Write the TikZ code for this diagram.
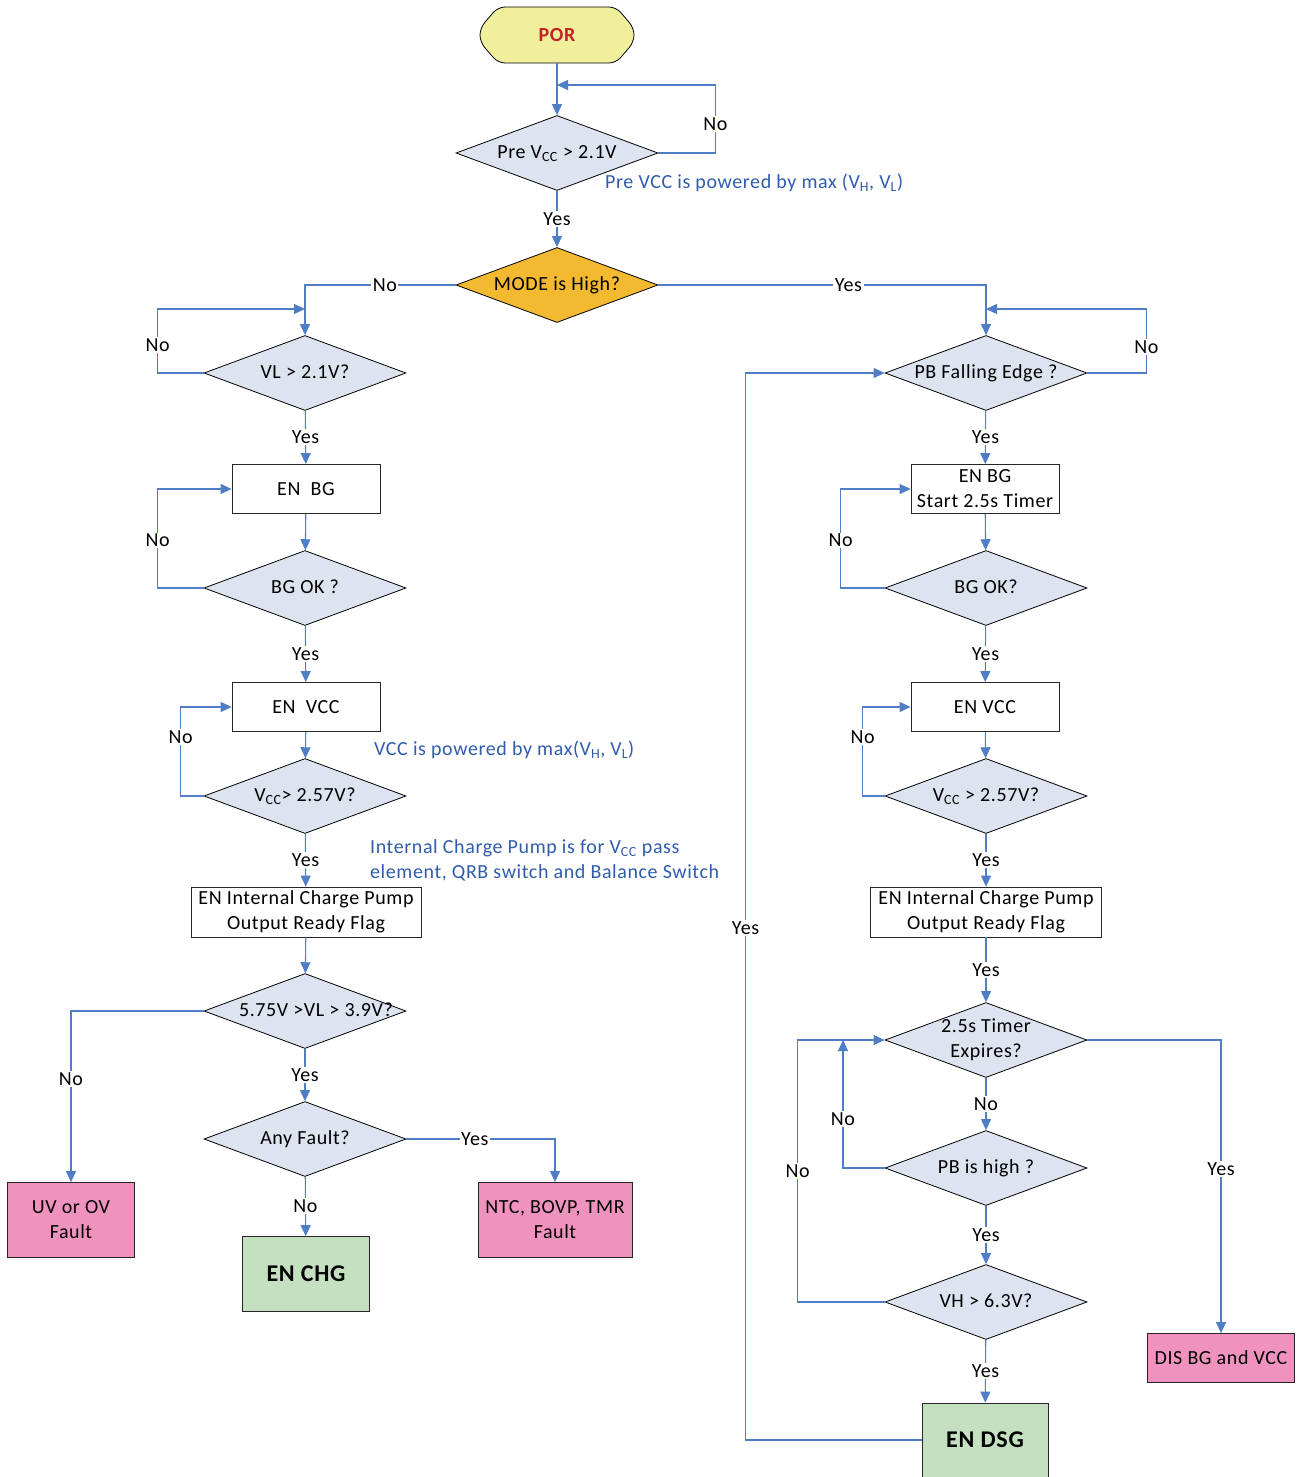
\documentclass[tikz,border=0pt]{standalone}
\usepackage{fontspec}
\setmainfont{Carlito}[LetterSpace=3]
\usetikzlibrary{shapes.geometric,arrows.meta}
\definecolor{flowblue}{HTML}{4F7EC6}
\definecolor{noteblue}{HTML}{2F5CAC}
\definecolor{askfill}{HTML}{DDE4F0}
\definecolor{modefill}{HTML}{F3B931}
\definecolor{porfill}{HTML}{F0F09C}
\definecolor{porred}{HTML}{C4222B}
\definecolor{faultpink}{HTML}{F092BE}
\definecolor{okgreen}{HTML}{C5E0C1}
\newcommand\txtsize{\fontsize{20}{25}\selectfont}
\newcommand\dlbl[1]{\makebox[0pt]{\begin{tabular}{@{}c@{}}#1\end{tabular}}}

\begin{document}
\begin{tikzpicture}[
    x=1pt, y=-1pt,
    every node/.style={font=\txtsize},
    ask/.style={diamond, draw=black, fill=askfill, line width=0.8pt,
        minimum width=202pt, minimum height=75pt, inner sep=0pt},
    task/.style={rectangle, draw=black!85, fill=white, line width=0.8pt,
        minimum width=148pt, minimum height=49pt, inner sep=2pt, align=center},
    endbox/.style={task, minimum width=127pt, minimum height=75pt},
    flow/.style={draw=flowblue, line width=1.1pt, -{Triangle[length=11pt,width=10pt]}},
    lbl/.style={fill=white, inner sep=1.5pt},
    note/.style={text=noteblue, anchor=west, inner sep=0pt, align=left}
]
\useasboundingbox (0,0) rectangle (1300,1477);

% start
\path[draw=black, fill=porfill, line width=0.8pt, rounded corners=7pt]
    (480,28) -- (498,7) -- (616,7) -- (634,28) -- (634,42) -- (616,63) -- (498,63) -- (480,42) -- cycle;
\node[minimum width=154pt, minimum height=56pt, font=\txtsize\bfseries, text=porred] (por) at (557,35) {POR};
\node[ask] (prevcc) at (557,153) {\dlbl{Pre V\textsubscript{CC} > 2.1V}};
\node[ask, fill=modefill] (mode) at (557,285) {\dlbl{MODE is High?}};
\coordinate (preloop) at (557,85);
\node[note] (note1) at (605,183) {Pre VCC is powered by max (V\textsubscript{H}, V\textsubscript{L})};

% charge side
\node[ask] (vl) at (305,373) {\dlbl{VL > 2.1V?}};
\coordinate (vlloop) at (305,309);
\node[task] (enbgL) at (306,489) {EN\ \ BG};
\node[ask] (bgokL) at (305,588) {\dlbl{BG OK ?}};
\node[task] (envccL) at (306,707) {EN\ \ VCC};
\node[ask] (vccL) at (305,796) {\dlbl{V\textsubscript{CC}> 2.57V?}};
\node[note] (note2) at (374,750) {VCC is powered by max(V\textsubscript{H}, V\textsubscript{L})};
\node[note] (note3) at (370,860) {Internal Charge Pump is for V\textsubscript{CC} pass\\element, QRB switch and Balance Switch};
\node[task, minimum width=230pt, minimum height=50pt] (pumpL) at (306,912) {EN Internal Charge Pump\\Output Ready Flag};
\node[ask] (vlrange) at (305,1011) {\dlbl{\hspace{22pt}5.75V >VL > 3.9V?}};
\node[ask] (fault) at (305,1139) {\dlbl{Any Fault?}};
\node[endbox, fill=faultpink] (uvfault) at (71,1220) {UV or OV\\Fault};
\node[endbox, fill=faultpink, minimum width=154pt] (ntcfault) at (555,1220) {NTC, BOVP, TMR\\Fault};
\node[endbox, fill=okgreen, font=\fontsize{24}{30}\selectfont\bfseries] (enchg) at (306,1274) {EN CHG};

% discharge side
\node[ask] (pb) at (986,373) {\dlbl{PB Falling Edge ?}};
\coordinate (pbloop) at (986,309);
\node[task] (enbgR) at (985,489) {EN BG\\Start 2.5s Timer};
\node[ask] (bgokR) at (986,588) {\dlbl{BG OK?}};
\node[task] (envccR) at (985,707) {EN VCC};
\node[ask] (vccR) at (986,796) {\dlbl{V\textsubscript{CC} > 2.57V?}};
\node[task, minimum width=231pt, minimum height=50pt] (pumpR) at (986,912) {EN Internal Charge Pump\\Output Ready Flag};
\node[ask] (timer) at (986,1040) {\dlbl{2.5s Timer\\Expires?}};
\coordinate (timerup) at (843,1040);
\node[ask] (pbhigh) at (986,1168) {\dlbl{PB is high ?}};
\node[ask] (vh) at (986,1302) {\dlbl{VH > 6.3V?}};
\node[endbox, fill=okgreen, minimum width=126pt, minimum height=74pt,
    font=\fontsize{24}{30}\selectfont\bfseries] (endsg) at (985,1440) {EN DSG};
\node[task, fill=faultpink, minimum width=147pt] (disbg) at (1221,1358) {DIS BG and VCC};

% connectors, top
\draw[flow] (por) -- (prevcc);
\draw[flow] (prevcc.east) -- ++(57,0) -- node[lbl, pos=0.42]{No} ++(0,-68) -- (preloop);
\draw[flow] (prevcc) -- node[lbl]{Yes} (mode);
\draw[flow] (mode.west) -- node[lbl, pos=0.47]{No} (mode.west -| vl.north) -- (vl.north);
\draw[flow] (mode.east) -- node[lbl, pos=0.58]{Yes} (mode.east -| pb.north) -- (pb.north);

% connectors, charge side
\draw[flow] (vl.west) -- ++(-46,0) -- node[lbl, pos=0.44]{No} ++(0,-64) -- (vlloop);
\draw[flow] (vl) -- node[lbl]{Yes} (enbgL);
\draw[flow] (enbgL) -- (bgokL);
\draw[flow] (bgokL.west) -- ++(-46,0) |- node[lbl, pos=0.24]{No} (enbgL.west);
\draw[flow] (bgokL) -- node[lbl]{Yes} (envccL);
\draw[flow] (vccL.west) -- ++(-23,0) |- node[lbl, pos=0.33]{No} (envccL.west);
\draw[flow] (envccL) -- (vccL);
\draw[flow] (vccL) -- node[lbl]{Yes} (pumpL);
\draw[flow] (pumpL) -- (vlrange);
\draw[flow] (vlrange.west) -| node[lbl, pos=0.7]{No} (uvfault.north);
\draw[flow] (vlrange) -- node[lbl]{Yes} (fault);
\draw[flow] (fault.east) -| node[lbl, pos=0.23]{Yes} (ntcfault.north);
\draw[flow] (fault) -- node[lbl]{No} (enchg);

% connectors, discharge side
\draw[flow] (pb.east) -- ++(59,0) -- node[lbl, pos=0.4]{No} ++(0,-64) -- (pbloop);
\draw[flow] (pb) -- node[lbl]{Yes} (enbgR);
\draw[flow] (enbgR) -- (bgokR);
\draw[flow] (bgokR.west) -- ++(-44,0) |- node[lbl, pos=0.24]{No} (enbgR.west);
\draw[flow] (bgokR) -- node[lbl]{Yes} (envccR);
\draw[flow] (vccR.west) -- ++(-22,0) |- node[lbl, pos=0.33]{No} (envccR.west);
\draw[flow] (envccR) -- (vccR);
\draw[flow] (vccR) -- node[lbl]{Yes} (pumpR);
\draw[flow] (pumpR) -- node[lbl]{Yes} (timer);
\draw[flow] (timer.east) -| node[lbl, pos=0.72]{Yes} (disbg.north);
\draw[flow] (timer) -- node[lbl]{No} (pbhigh);
\draw[flow] (pbhigh.west) -| node[lbl, pos=0.69]{No} (timerup);
\draw[flow] (pbhigh) -- node[lbl]{Yes} (vh);
\draw[flow] (vh.west) -- ++(-87,0) |- node[lbl, pos=0.25]{No} (timer.west);
\draw[flow] (vh) -- node[lbl]{Yes} (endsg);
\draw[flow] (endsg.west) -- ++(-176,0) |- node[lbl, pos=0.24]{Yes} (pb.west);
\end{tikzpicture}
\end{document}
